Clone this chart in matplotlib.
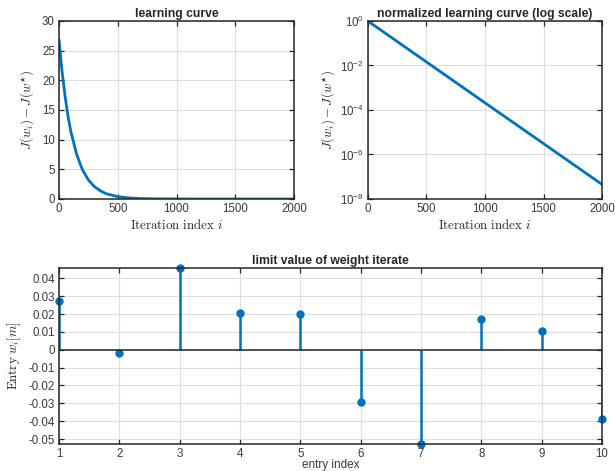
import matplotlib
matplotlib.use("Agg")
import matplotlib.pyplot as plt
import numpy as np

plt.rcParams['font.family'] = ['Liberation Sans', 'DejaVu Sans']
plt.rcParams['mathtext.fontset'] = 'cm'
plt.rcParams['axes.unicode_minus'] = False

BLUE = '#0072BD'
DARK = '#262626'
TICK = '#3a3a3a'

# learning curve
iters = [0, 25, 50, 75, 100, 150, 200, 250, 300, 350, 400, 500, 600, 700, 800, 1000, 1500, 2000]
excess = [26.7, 21.6, 17.5, 14.1, 11.4, 7.5, 4.9, 3.2, 2.1, 1.4, 0.9, 0.39, 0.17, 0.07,
          0.03, 0.005, 0.0001, 0.0]

# normalized learning curve
iters_log = [0, 500, 1000, 1500, 2000]
excess_norm = [1.0, 1.45e-2, 2.1e-4, 3.1e-6, 4.5e-8]

# limit value of weight iterate
entries = [1, 2, 3, 4, 5, 6, 7, 8, 9, 10]
weights = [0.0275, -0.0017, 0.0458, 0.0207, 0.0200, -0.0294, -0.0528, 0.0170, 0.0103, -0.0388]


def style(ax):
    for s in ax.spines.values():
        s.set_color(DARK)
        s.set_linewidth(1.1)
    ax.tick_params(direction='in', length=3.5, width=0.9, color=DARK,
                   labelcolor=TICK, labelsize=8.3, top=True, right=True, pad=3)
    ax.grid(True, color='#dedede', linewidth=0.8)
    ax.set_axisbelow(True)


fig = plt.figure(figsize=(6.15, 4.71), dpi=100)

ax1 = fig.add_axes([0.096, 0.5775, 0.382, 0.378])
ax1.plot(iters, excess, color=BLUE, linewidth=2)
ax1.set_xlim(0, 2000)
ax1.set_ylim(0, 30)
ax1.set_xticks([0, 500, 1000, 1500, 2000])
ax1.set_yticks([0, 5, 10, 15, 20, 25, 30])
style(ax1)
ax1.set_title('learning curve', fontsize=8.7, fontweight='bold', color=DARK, pad=3)
ax1.set_xlabel(r'$\mathrm{Iteration\ index}\ i$', fontsize=9.3, color=DARK, labelpad=2)
ax1.set_ylabel(r'$J(w_i) - J(w^{\star})$', fontsize=9.3, color=DARK, labelpad=4)

ax2 = fig.add_axes([0.598, 0.5775, 0.381, 0.378])
ax2.semilogy(iters_log, excess_norm, color=BLUE, linewidth=2)
ax2.set_xlim(0, 2000)
ax2.set_ylim(1e-8, 1)
ax2.set_xticks([0, 500, 1000, 1500, 2000])
ax2.set_yticks([1e0, 1e-2, 1e-4, 1e-6, 1e-8])
ax2.set_yticklabels([r'$\mathregular{10^{0}}$', r'$\mathregular{10^{-2}}$',
                     r'$\mathregular{10^{-4}}$', r'$\mathregular{10^{-6}}$',
                     r'$\mathregular{10^{-8}}$'])
ax2.minorticks_off()
style(ax2)
ax2.set_title('normalized learning curve (log scale)', fontsize=8.7, fontweight='bold',
              color=DARK, pad=3)
ax2.set_xlabel(r'$\mathrm{Iteration\ index}\ i$', fontsize=9.3, color=DARK, labelpad=2)
ax2.set_ylabel(r'$J(w_i) - J(w^{\star})$', fontsize=9.3, color=DARK, labelpad=2)

ax3 = fig.add_axes([0.096, 0.0573, 0.883, 0.3737])
markerline, stemlines, baseline = ax3.stem(entries, weights)
markerline.set_color(BLUE)
markerline.set_markersize(5)
markerline.set_clip_on(False)
stemlines.set_color(BLUE)
stemlines.set_linewidth(1.8)
baseline.set_color(DARK)
baseline.set_linewidth(1.1)
ax3.set_xlim(1, 10)
ax3.set_ylim(min(weights), max(weights))
ax3.set_xticks(entries)
yt = [-0.05, -0.04, -0.03, -0.02, -0.01, 0, 0.01, 0.02, 0.03, 0.04]
ax3.set_yticks(yt)
ax3.set_yticklabels(['0' if v == 0 else '%.2f' % v for v in yt])
style(ax3)
ax3.set_title('limit value of weight iterate', fontsize=8.7, fontweight='bold',
              color=DARK, pad=3)
ax3.set_xlabel('entry index', fontsize=8.5, color=TICK, labelpad=-1)
ax3.set_ylabel(r'$\mathrm{Entry}\ w_i[m]$', fontsize=9.3, color=DARK, labelpad=4)

fig.savefig('out.png', dpi=100)
